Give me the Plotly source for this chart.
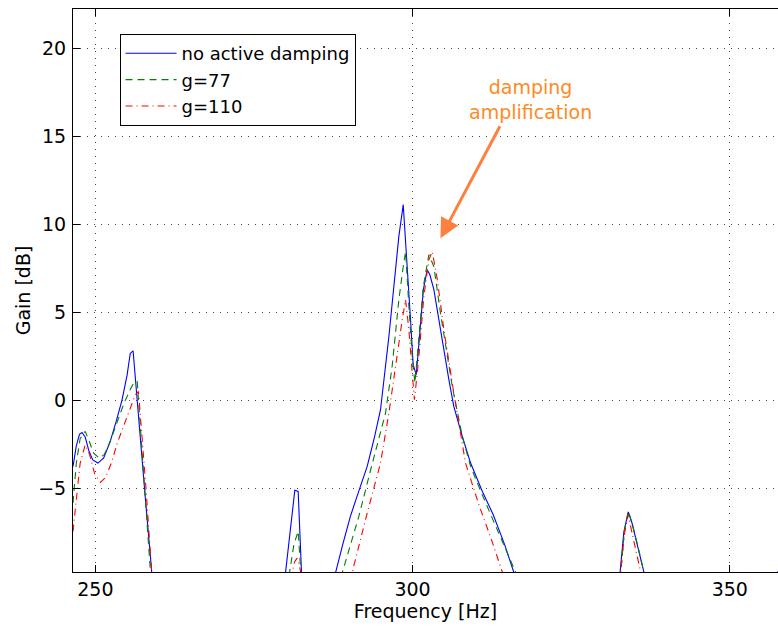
import plotly.graph_objects as go

# ---------------- data ----------------
freq_blue = [246.48, 247.0, 247.5, 247.9, 248.4, 249.0, 249.6, 250.4, 251.3, 252.3, 253.3, 254.2,
             255.0, 255.5, 255.95, 256.56, 257.7, 258.9, 259.4, 279.5, 279.97, 281.44, 281.97,
             282.5, 283.0, 287.3, 287.85, 289.0, 290.2, 291.5, 292.85, 294.0, 294.95, 296.27,
             297.05, 297.84, 298.53, 299.16, 299.68, 300.1, 300.58, 301.1, 301.7, 302.3, 302.73,
             303.36, 304.15, 304.94, 305.73, 306.5, 307.84, 309.15, 311.0, 312.7, 314.5, 316.0,
             316.5, 332.2, 332.7, 333.3, 334.0, 334.6, 335.5, 336.5, 337.0, 356.9, 357.6]
gain_blue = [-3.77, -2.6, -1.95, -1.84, -2.1, -2.9, -3.4, -3.58, -3.3, -2.4, -1.2, 0.0,
             1.4, 2.65, 2.80, 0.0, -4.8, -9.83, -30, -30, -9.83, -5.13, -5.19,
             -9.83, -30, -30, -9.83, -8.2, -6.61, -5.2, -3.77, -2.1, -0.55, 3.61,
             6.45, 9.3, 11.1, 7.78, 4.56, 2.0, 1.44, 3.61, 6.27, 7.40, 7.12,
             6.27, 4.56, 2.67, 1.15, -0.36, -2.07, -3.58, -5.2, -6.5, -8.2, -9.83,
             -30, -30, -9.83, -7.5, -6.36, -7.0, -8.3, -9.83, -30, -12, -9.72]

freq_g77 = [246.48, 247.0, 247.6, 248.4, 249.0, 249.7, 250.6, 251.4, 252.3, 253.4, 254.5, 255.5,
            256.1, 256.6, 257.6, 258.7, 259.2, 280.1, 280.6, 281.3, 281.97, 282.4, 282.9, 288.4,
            288.9, 290.2, 291.53, 293.4, 294.7, 295.74, 296.78, 297.84, 298.53, 298.9, 299.42,
            299.95, 300.37, 301.0, 301.7, 302.57, 303.36, 304.4, 306.26, 307.84, 309.15, 311.0,
            313.0, 315.0, 316.3, 316.8, 332.3, 332.8, 333.4, 334.0, 334.6, 335.5, 336.5, 337.0, 357.6]
gain_g77 = [-5.85, -3.6, -2.2, -1.78, -2.3, -3.0, -3.3, -3.1, -2.4, -1.3, -0.2, 0.6,
            1.0, 1.06, -4.3, -9.83, -30, -30, -9.83, -8.2, -7.46, -9.83, -30, -30,
            -9.83, -8.3, -6.61, -3.96, -2.26, -0.74, 1.91, 5.70, 7.59, 8.44, 5.32,
            2.48, 0.97, 3.43, 6.45, 8.26, 7.59, 4.94, 0.77, -2.07, -3.77, -5.4,
            -7.1, -8.7, -9.83, -30, -30, -9.83, -7.4, -6.3, -7.0, -8.3, -9.83, -30, -30]

freq_g110 = [246.48, 247.0, 247.6, 248.4, 249.1, 249.9, 250.8, 251.6, 252.5, 253.5, 254.6, 255.6,
             256.3, 256.8, 257.9, 258.9, 259.4, 280.5, 281.0, 281.4, 281.8, 282.1, 282.4, 282.9,
             290.0, 290.5, 290.76, 292.85, 294.95, 296.27, 297.3, 298.37, 298.9, 299.42, 299.95,
             300.3, 301.0, 301.78, 302.57, 303.1, 303.9, 304.94, 306.5, 308.35, 310.5, 312.5,
             314.2, 314.7, 332.3, 332.8, 333.4, 334.0, 334.5, 335.3, 336.0, 336.5, 357.6]
gain_g110 = [-7.47, -5.5, -3.6, -2.54, -3.1, -4.2, -4.68, -4.4, -3.6, -2.4, -1.3, -0.3,
             0.3, 0.49, -4.6, -9.83, -30, -30, -9.83, -9.2, -8.98, -9.3, -9.83, -30,
             -30, -9.83, -9.4, -6.42, -3.58, -0.74, 1.91, 4.56, 5.70, 4.0, 1.53,
             0.02, 2.48, 5.89, 7.97, 8.44, 6.84, 4.0, 0.4, -3.58, -6.0, -8.0,
             -9.83, -30, -30, -9.83, -7.6, -6.5, -7.4, -8.8, -9.83, -30, -30]

series_names = ["no active damping", "g=77", "g=110"]
x_ticks = [250, 300, 350]
y_ticks = [-5, 0, 5, 10, 15, 20]
annotation_text = "damping<br>amplification"

# ---------------- figure ----------------
FONT = "DejaVu Sans, Liberation Sans, Arial, sans-serif"
FS = 19

fig = go.Figure()
fig.add_trace(go.Scatter(x=freq_blue, y=gain_blue, mode="lines", name=series_names[0],
                         line=dict(color="#0000FF", width=1.1)))
fig.add_trace(go.Scatter(x=freq_g77, y=gain_g77, mode="lines", name=series_names[1],
                         line=dict(color="#008000", width=1.1, dash="7px,5px")))
fig.add_trace(go.Scatter(x=freq_g110, y=gain_g110, mode="lines", name=series_names[2],
                         line=dict(color="#FF0000", width=1.1, dash="7px,4px,1px,4px")))

axis_common = dict(
    showline=True, linecolor="black", linewidth=1,
    showgrid=True, gridcolor="#444444", griddash="1px,6px", gridwidth=1,
    zeroline=False, ticks="inside", ticklen=7, tickcolor="black",
    tickfont=dict(family=FONT, size=FS, color="black"),
)

fig.update_xaxes(range=[246.48, 357.6], tickvals=x_ticks, mirror="ticks",
                 title=dict(text="Frequency [Hz]", font=dict(family=FONT, size=FS, color="black"),
                            standoff=0),
                 ticklabelstandoff=0, **axis_common)
fig.update_yaxes(range=[-9.77, 22.22], tickvals=y_ticks, mirror=False,
                 title=dict(text="Gain [dB]", font=dict(family=FONT, size=FS, color="black"),
                            standoff=2),
                 ticklabelstandoff=2, **axis_common)

fig.add_annotation(x=318.6, y=17.06, xref="x", yref="y", text=annotation_text,
                   showarrow=False, font=dict(family=FONT, size=FS, color="#FF8A1E"))
fig.add_annotation(x=304.4, y=9.2, xref="x", yref="y", ax=313.9, ay=15.64,
                   axref="x", ayref="y", text="", showarrow=True, arrowhead=2,
                   arrowsize=1.3, arrowwidth=3, arrowcolor="#FF7F3F")

fig.update_layout(
    width=778, height=630,
    margin=dict(l=73, r=0, t=9, b=58),
    plot_bgcolor="white", paper_bgcolor="white",
    font=dict(family=FONT, size=FS, color="black"),
    showlegend=True,
    legend=dict(x=0.066, y=0.9556, xanchor="left", yanchor="top",
                bgcolor="white", bordercolor="black", borderwidth=1,
                itemwidth=51,
                font=dict(family=FONT, size=18, color="black"),
                tracegroupgap=0),
)

fig.write_html("out.html")
